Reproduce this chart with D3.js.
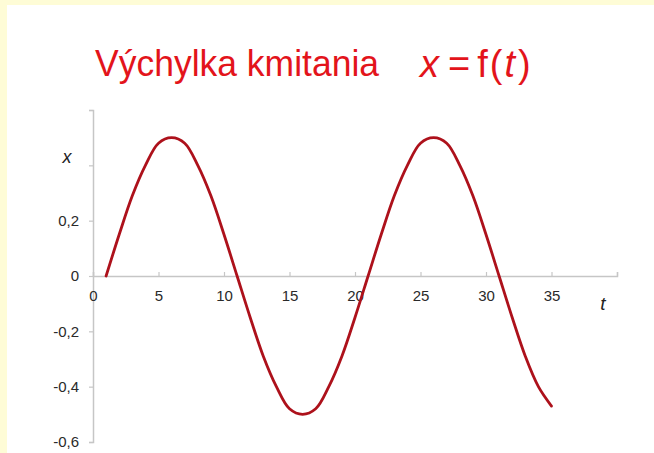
<!DOCTYPE html>
<html>
<head>
<meta charset="utf-8">
<script src="https://cdn.jsdelivr.net/npm/d3@7/dist/d3.min.js"></script>
<style>
  html, body { margin: 0; padding: 0; background: #fefcd6; }
  svg { display: block; }
</style>
</head>
<body>
<script>
// Displacement of the oscillation, sampled once per time unit
const timeValues = [1, 2, 3, 4, 5, 6, 7, 8, 9, 10, 11, 12, 13, 14, 15, 16, 17, 18,
  19, 20, 21, 22, 23, 24, 25, 26, 27, 28, 29, 30, 31, 32, 33, 34, 35];
const displacement = [0, 0.15, 0.29, 0.40, 0.48, 0.50, 0.48, 0.40, 0.29, 0.15,
  0, -0.15, -0.29, -0.40, -0.48, -0.50, -0.48, -0.40, -0.29, -0.15,
  0, 0.15, 0.29, 0.40, 0.48, 0.50, 0.48, 0.40, 0.29, 0.15,
  0, -0.15, -0.29, -0.40, -0.47];
const xTicks = [0, 5, 10, 15, 20, 25, 30, 35, 40];
const xTickLabels = ["0", "5", "10", "15", "20", "25", "30", "35", ""];
const yTicks = [-0.6, -0.4, -0.2, 0, 0.2, 0.4, 0.6];
const yTickLabels = ["-0,6", "-0,4", "-0,2", "0", "0,2", "", ""];

const W = 654, H = 453;
const svg = d3.select("body").append("svg").attr("width", W).attr("height", H);

// white card over the yellow page
svg.append("rect").attr("x", 7).attr("y", 5).attr("width", W - 7).attr("height", H - 5)
  .attr("fill", "#ffffff");

const x = d3.scaleLinear().domain([0, 40]).range([93, 617]);
const y = d3.scaleLinear().domain([-0.6, 0.6]).range([442, 110]);

const labelFont = "Liberation Sans, Arial, sans-serif";

// title
svg.append("text").attr("x", 95).attr("y", 76)
  .attr("font-family", labelFont).attr("font-size", 36).attr("fill", "#e3141b")
  .attr("textLength", 284).attr("lengthAdjust", "spacingAndGlyphs")
  .text("Výchylka kmitania");
const formula = svg.append("text").attr("x", 420).attr("y", 77)
  .attr("font-family", labelFont).attr("font-size", 38).attr("fill", "#e3141b");
formula.append("tspan").attr("font-style", "italic").text("x");
formula.append("tspan").attr("dx", 9).text("=");
formula.append("tspan").attr("dx", 7).text("f");
formula.append("tspan").attr("dx", 2).text("(");
formula.append("tspan").attr("dx", 2).attr("font-style", "italic").text("t");
formula.append("tspan").attr("dx", 3).text(")");

const axisColor = "#c6c6c6";

// y axis
const yAxis = svg.append("g").attr("transform", `translate(${x(0)},0)`)
  .call(d3.axisLeft(y).tickValues(yTicks).tickSize(4).tickPadding(10)
    .tickFormat((d, i) => yTickLabels[i]));
yAxis.select(".domain").attr("stroke", axisColor).attr("stroke-width", 1.5);
yAxis.selectAll(".tick line").attr("stroke", axisColor).attr("stroke-width", 1.2);
yAxis.selectAll(".tick text").attr("font-family", labelFont).attr("font-size", 15)
  .attr("fill", "#2a2a2a");

// x axis
const xAxis = svg.append("g").attr("transform", `translate(0,${y(0)})`)
  .call(d3.axisBottom(x).tickValues(xTicks).tickSize(-4).tickPadding(14)
    .tickFormat((d, i) => xTickLabels[i]));
xAxis.select(".domain").attr("stroke", axisColor).attr("stroke-width", 1.5);
xAxis.selectAll(".tick line").attr("stroke", axisColor).attr("stroke-width", 1.2);
xAxis.selectAll(".tick text").attr("font-family", labelFont).attr("font-size", 15)
  .attr("fill", "#2a2a2a");

// axis names
svg.append("text").attr("x", 67).attr("y", 163).attr("text-anchor", "middle")
  .attr("font-family", labelFont).attr("font-size", 18).attr("font-style", "italic")
  .attr("fill", "#222").text("x");
svg.append("text").attr("x", 603).attr("y", 310).attr("text-anchor", "middle")
  .attr("font-family", labelFont).attr("font-size", 19).attr("font-style", "italic")
  .attr("fill", "#222").text("t");

// displacement curve
const line = d3.line()
  .x((d, i) => x(timeValues[i]))
  .y(d => y(d))
  .curve(d3.curveCatmullRom);
svg.append("path").datum(displacement)
  .attr("d", line)
  .attr("fill", "none")
  .attr("stroke", "#ad111b")
  .attr("stroke-width", 2.8)
  .attr("stroke-linejoin", "round")
  .attr("stroke-linecap", "round");
</script>
</body>
</html>
